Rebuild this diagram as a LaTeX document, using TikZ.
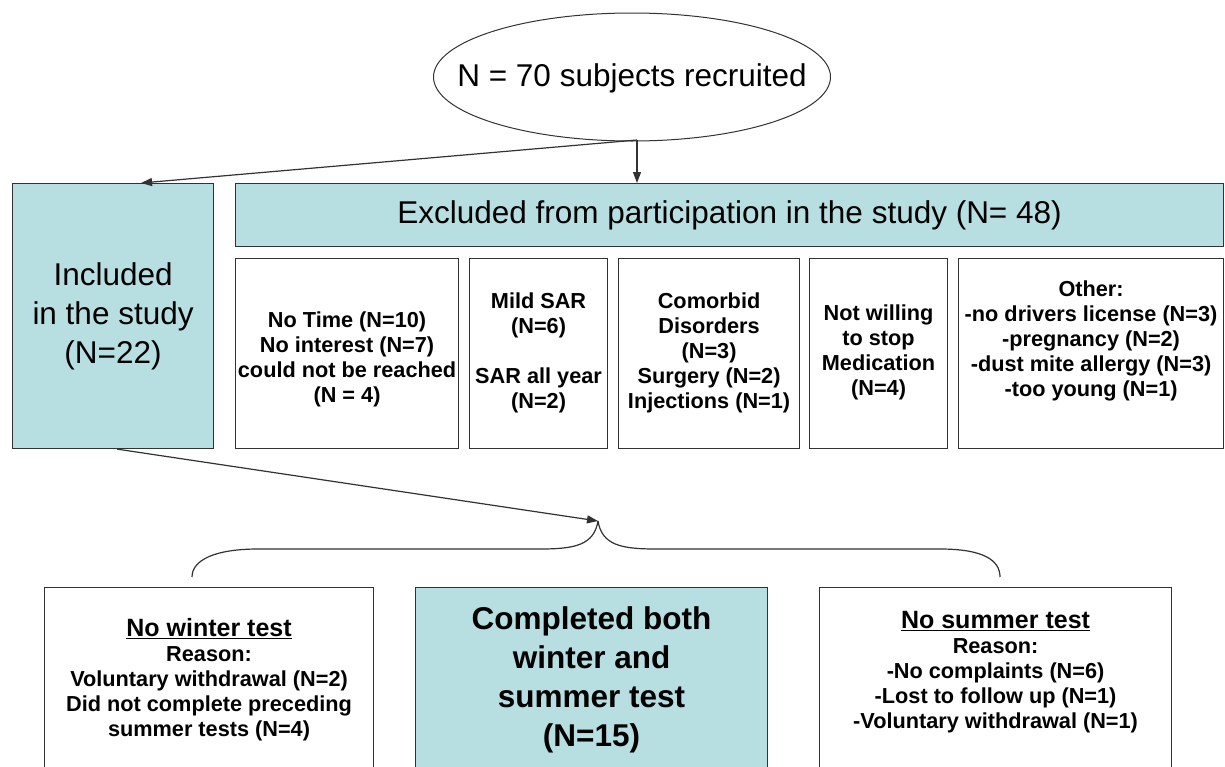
\documentclass[tikz,border=0pt]{standalone}
\usepackage{fontspec}
\setmainfont{Liberation Sans}
\usetikzlibrary{arrows.meta,shapes.geometric}
\definecolor{cy}{RGB}{183,222,224}
\definecolor{ln}{RGB}{50,50,50}
\begin{document}
\begin{tikzpicture}[x=1pt,y=-1pt,
  box/.style={draw=ln, line width=1.1pt, rectangle, inner sep=0pt, anchor=north west},
  fillbox/.style={box, fill=cy},
  big/.style={font=\fontsize{31.5}{39}\selectfont, align=center, inner sep=0pt},
  bigb/.style={font=\fontsize{31.5}{39}\selectfont\bfseries, align=center, inner sep=0pt},
  sm/.style={font=\fontsize{21.7}{25}\selectfont\bfseries, align=center, inner sep=0pt},
  arr/.style={draw=ln, line width=1.2pt, -{Triangle[length=11pt,width=8pt]}},
  brace/.style={draw=ln, line width=1.2pt}
]
\useasboundingbox (0,0) rectangle (1225,766);
\clip (0,0) rectangle (1225,766);
\fill[white] (0,0) rectangle (1225,766);

% top ellipse
\node[draw=ln, line width=1pt, ellipse, minimum width=397pt, minimum height=128pt, inner sep=0pt] (ell) at (632,77) {};
\node[big] (ellt) at ([yshift=-1pt]ell.center) {N = 70 subjects recruited};

% included / excluded
\node[fillbox, minimum width=201pt, minimum height=265pt, big] (inc) at (12,183) {Included\\in the study\\(N=22)};
\node[fillbox, minimum width=988pt, minimum height=63pt, big] (exc) at (235,183) {Excluded from participation in the study (N= 48)};

% reason boxes
\node[box, minimum width=223pt, minimum height=190pt] (b1) at (235,258) {};
\node[box, minimum width=138pt, minimum height=190pt] (b2) at (469,258) {};
\node[box, minimum width=181pt, minimum height=190pt] (b3) at (618,258) {};
\node[box, minimum width=138pt, minimum height=190pt] (b4) at (809,258) {};
\node[box, minimum width=265pt, minimum height=190pt] (b5) at (958,258) {};

\node[sm] (t1) at ([yshift=-6pt]b1.center) {No Time (N=10)\\No interest (N=7)\\could not be reached\\(N = 4)};
\node[sm] (t2) at ([yshift=1pt]b2.center) {Mild SAR\\(N=6)\\[25pt]SAR all year\\(N=2)};
\node[sm] (t3) at ([yshift=1pt]b3.center) {Comorbid\\Disorders\\(N=3)\\Surgery (N=2)\\Injections (N=1)};
\node[sm] (t4) at ([yshift=1pt]b4.center) {Not willing\\to stop\\Medication\\(N=4)};
\node[sm] (t5) at ([yshift=13pt]b5.center) {Other:\\-no drivers license (N=3)\\-pregnancy (N=2)\\-dust mite allergy (N=3)\\-too young (N=1)};

% arrows from ellipse
\coordinate (eb) at (637,140);
\draw[arr] (eb) -- (eb |- exc.north);
\draw[arr] (eb) -- ([xshift=28pt]inc.north);

% brace
\coordinate (tip) at (598,521);
\draw[brace] (tip) .. controls (594,545) and (575,549) .. (540,549) -- (258,549)
  .. controls (215,549) and (192,560) .. (192,577);
\draw[brace] (tip) .. controls (602,545) and (621,549) .. (656,549) -- (940,549)
  .. controls (983,549) and (1000,560) .. (1000,577);
\draw[arr] ([xshift=4pt]inc.south) -- (tip);

% bottom boxes
\node[box, minimum width=329pt, minimum height=185pt] (L) at (44,587) {};
\node[fillbox, minimum width=352pt, minimum height=185pt] (M) at (415,587) {};
\node[box, minimum width=352pt, minimum height=185pt] (R) at (819,587) {};

\node[sm] (tl) at (L.center) {{\fontsize{25}{25}\selectfont\underline{No winter test}}\\Reason:\\Voluntary withdrawal (N=2)\\Did not complete preceding\\summer tests (N=4)};
\node[bigb] (tm) at (M.center) {Completed both\\winter and\\summer test\\(N=15)};
\node[sm] (tr) at ([yshift=8pt]R.center) {{\fontsize{25}{25}\selectfont\underline{No summer test}}\\Reason:\\-No complaints (N=6)\\-Lost to follow up (N=1)\\-Voluntary withdrawal (N=1)};
\end{tikzpicture}
\end{document}
